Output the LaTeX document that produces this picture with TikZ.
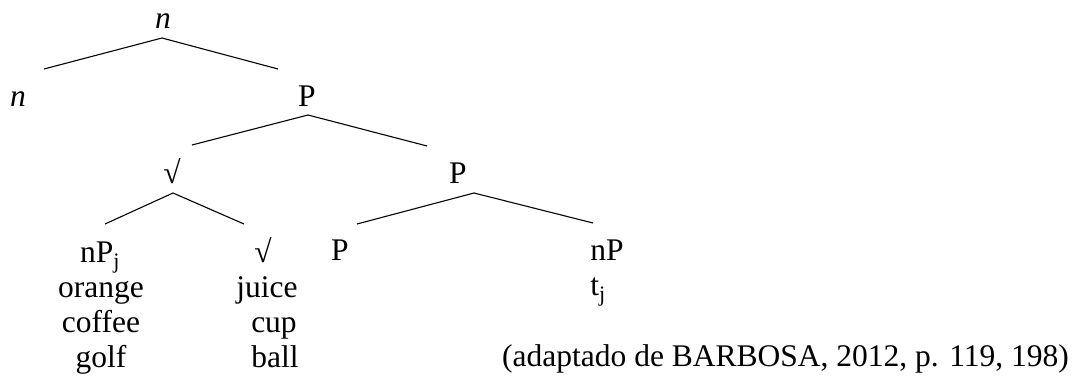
\documentclass[tikz,border=0pt]{standalone}
\usepackage{fontspec}
\setmainfont{Liberation Serif}
\usetikzlibrary{positioning}
\tikzset{
  lbl/.style    = {font=\fontsize{31.5}{35}\selectfont, inner sep=0pt, anchor=base},
  branch/.style = {line width=1.1pt, black},
}

\begin{document}
\begin{tikzpicture}[x=1pt, y=-1pt]
  \useasboundingbox (0,0) rectangle (1082,377);
  % labels, placed on their baselines
  \node[lbl] (nTop)  at (163,29)  {\textit{n}};
  \node[lbl] (nLeft) at (18,107)  {\textit{n}};
  \node[lbl] (Pa)    at (307,107) {P};
  \node[lbl] (rootA) at (172,183) {√};
  \node[lbl] (Pb)    at (458,183) {P};
  \node[lbl] (nPj)   at (100,262) {nP\textsubscript{j}};
  \node[lbl] (rootB) at (263,262) {√};
  \node[lbl] (Pc)    at (340,260) {P};
  \node[lbl] (nP)    at (607,260) {nP};
  % lexical items under the leaves
  \node[lbl] (orange) at (101,297) {orange};
  \node[lbl] (coffee) at (101,332) {coffee};
  \node[lbl] (golf)   at (101,367) {golf};
  \node[lbl] (juice)  at (267,297) {juice};
  \node[lbl] (cup)    at (274,332) {cup};
  \node[lbl] (ball)   at (275,367) {ball};
  \node[lbl] (trace)  at (598,295) {t\textsubscript{j}};
  \node[lbl, anchor=base west] (src) at (502,366) {(adaptado de BARBOSA, 2012, p. 119, 198)};
  % branch points
  \coordinate (nTop-top) at (162,38);
  \coordinate (nTop-l)   at (44,69);
  \coordinate (nTop-r)   at (278,69);
  \coordinate (Pa-top)   at (308,115);
  \coordinate (Pa-l)     at (192,145);
  \coordinate (Pa-r)     at (427,146);
  \coordinate (rootA-top) at (173,193);
  \coordinate (rootA-l)   at (105,224);
  \coordinate (rootA-r)   at (244,224);
  \coordinate (Pb-top)   at (474,193);
  \coordinate (Pb-l)     at (357,224);
  \coordinate (Pb-r)     at (593,223);
  \foreach \b in {nTop, Pa, rootA, Pb}
    \draw[branch] (\b-l) -- (\b-top) -- (\b-r);
\end{tikzpicture}
\end{document}
